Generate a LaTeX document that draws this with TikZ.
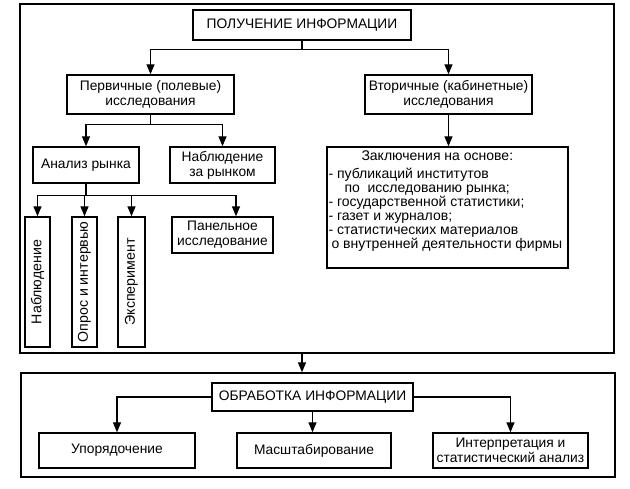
\documentclass[tikz,border=0pt]{standalone}
\usepackage{fontspec}
\setmainfont{Liberation Sans}
\usetikzlibrary{arrows.meta,positioning}

\begin{document}
\begin{tikzpicture}[
    x=1pt, y=-1pt,
    box/.style={rectangle, draw, line width=1.4pt, align=center, inner sep=1pt, font=\fontsize{13.8}{15}\selectfont},
    frame/.style={rectangle, draw, line width=1.4pt},
    vbox/.style={box, rotate=90, minimum width=130pt, font=\fontsize{14.2}{15}\selectfont},
    list/.style={align=left, inner sep=0pt, font=\fontsize{14}{14}\selectfont},
    arrow/.style={-{Triangle[length=10pt,width=8pt]}, line width=1.4pt}
]
    \useasboundingbox (0,0) rectangle (630,489);

    % obtaining information
    \node[frame, minimum width=594pt, minimum height=349pt] (getinfo) at (317,178.5) {};
    \node[box, minimum width=218pt, minimum height=30pt] (top) at (302,25) {ПОЛУЧЕНИЕ ИНФОРМАЦИИ};
    \node[box, minimum width=167pt, minimum height=39pt] (primary) at (150.5,94.5) {Первичные (полевые)\\исследования};
    \node[box, minimum width=167pt, minimum height=39pt] (secondary) at (448.5,94.5) {Вторичные (кабинетные)\\исследования};
    \node[box, minimum width=106pt, minimum height=36pt] (market) at (86,165) {Анализ рынка};
    \node[box, minimum width=105pt, minimum height=36pt] (watch) at (222.5,165) {Наблюдение\\за рынком};
    \node[vbox, minimum height=25pt] (observe) at (37.5,282) {Наблюдение};
    \node[vbox, minimum height=25pt] (survey) at (84.5,282) {Опрос и интервью};
    \node[vbox, minimum height=27pt] (experiment) at (131.5,282) {Эксперимент};
    \node[box, minimum width=101pt, minimum height=36pt] (panel) at (222.5,235) {Панельное\\исследование};
    \node[box, minimum width=241pt, minimum height=121pt] (sources) at (447.5,207.5) {};
    \node[list, anchor=north west] (sourcelist) at ([shift={(2,4)}]sources.north west) {%
        \hspace*{33pt}Заключения на основе:\\[4pt]
        - публикаций институтов\\
        \hspace*{16pt}по \ исследованию рынка;\\
        - государственной статистики;\\
        - газет и журналов;\\
        - статистических материалов\\
        \hspace*{3pt}о внутренней деятельности фирмы};

    \draw[arrow] (top.south) -- ++(0,9) -| (primary.north);
    \draw[arrow] (top.south) -- ++(0,9) -| (secondary.north);
    \draw[arrow] (primary.south) -- ++(0,10) -| (market.north);
    \draw[arrow] (primary.south) -- ++(0,10) -| (watch.north);
    \draw[arrow] (secondary.south) -- (secondary.south |- sources.north);
    % rotated boxes: east is their top side
    \draw[arrow] (market.south) -- ++(0,12) -| (observe.east);
    \draw[arrow] (market.south) -- ++(0,12) -| (survey.east);
    \draw[arrow] (market.south) -- ++(0,12) -| (experiment.east);
    \draw[arrow] (market.south) -- ++(0,12) -| ([xshift=13.5pt]panel.north);

    % processing information
    \node[frame, minimum width=594pt, minimum height=104pt] (procinfo) at (318,425) {};
    \node[box, minimum width=201pt, minimum height=28pt] (process) at (312.5,397) {ОБРАБОТКА ИНФОРМАЦИИ};
    \node[box, minimum width=156pt, minimum height=35pt] (order) at (117,450.5) {Упорядочение};
    \node[box, minimum width=154pt, minimum height=35pt] (scaling) at (314,450.5) {Масштабирование};
    \node[box, minimum width=155pt, minimum height=35pt] (interpret) at (510.5,450.5) {Интерпретация и\\статистический анализ};

    \draw[arrow] (top.south |- getinfo.south) -- (top.south |- procinfo.north);
    \draw[arrow] (process.west) -| (order.north);
    \draw[arrow] (process.south) -- (process.south |- scaling.north);
    \draw[arrow] (process.east) -| (interpret.north);
\end{tikzpicture}
\end{document}
